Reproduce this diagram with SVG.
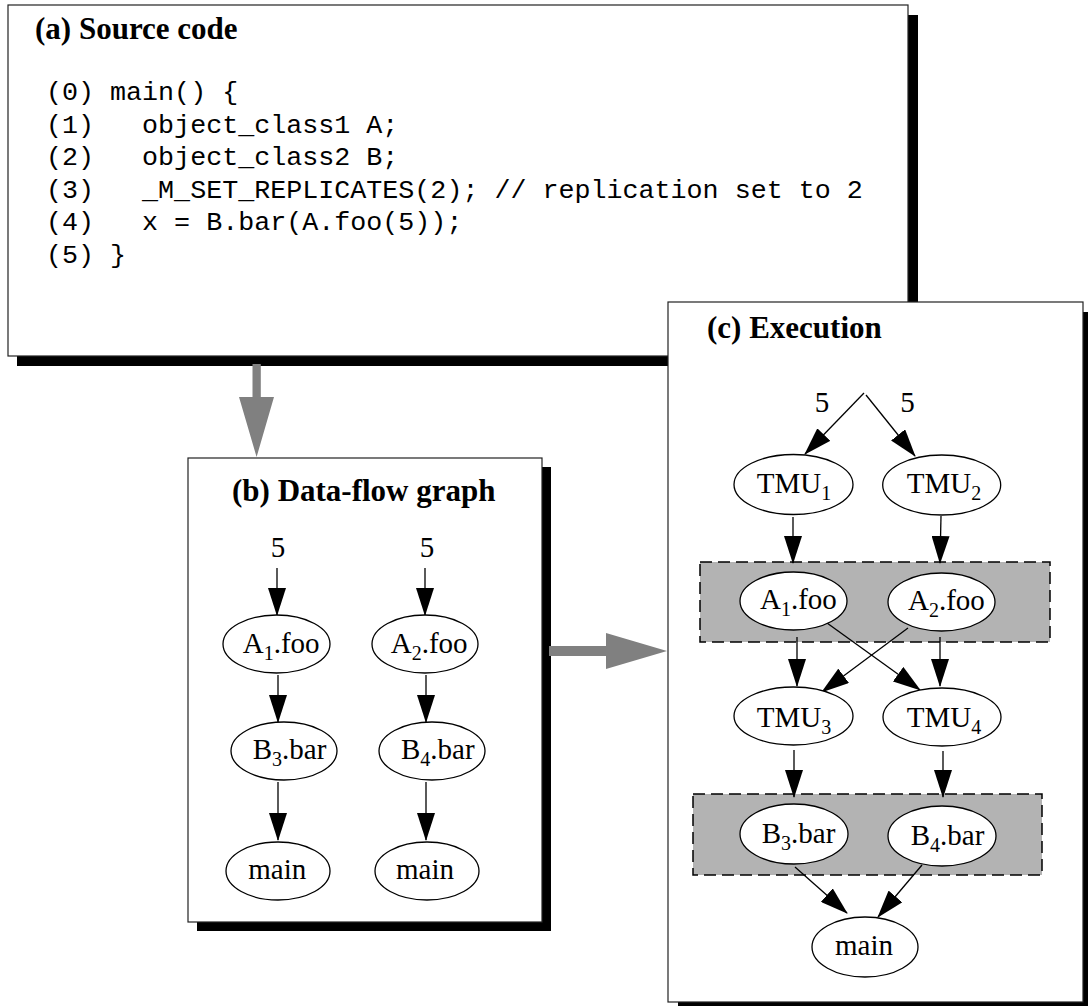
<svg xmlns="http://www.w3.org/2000/svg" width="1088" height="1006" viewBox="0 0 1088 1006">
<style>
.shadow{fill:#000}
.panel{fill:#fff;stroke:#222;stroke-width:1.2}
.title{font-family:"Liberation Serif","Times New Roman",serif;font-weight:bold;font-size:31px;fill:#000}
.code{font-family:"Liberation Mono","Courier New",monospace;font-size:26.7px;fill:#000;white-space:pre}
.lbl{font-family:"Liberation Serif","Times New Roman",serif;font-size:29px;fill:#000}
.sub{font-size:20px}
.node{fill:#fff;stroke:#000;stroke-width:1.3}
.edge{stroke:#000;stroke-width:1.3;fill:none;marker-end:url(#ah)}
.cluster{fill:#b3b3b3;stroke:#000;stroke-width:1.5;stroke-dasharray:12 6}
.flow{fill:#808080}
</style>
<defs>
<marker id="ah" markerUnits="userSpaceOnUse" markerWidth="28" markerHeight="18" viewBox="0 0 28 18" refX="27" refY="9" orient="auto">
<path d="M0,0 L28,9 L0,18 z" fill="#000"/>
</marker>
</defs>

<g id="panel-a">
<rect class="shadow" x="17" y="15" width="901" height="351"/>
<rect class="panel" x="8" y="5" width="900" height="351"/>
<text class="title" x="35" y="39">(a) Source code</text>
<text class="code" x="46" y="100" xml:space="preserve">(0) main() {</text>
<text class="code" x="46" y="132.5" xml:space="preserve">(1)   object_class1 A;</text>
<text class="code" x="46" y="165" xml:space="preserve">(2)   object_class2 B;</text>
<text class="code" x="46" y="197.5" xml:space="preserve">(3)   _M_SET_REPLICATES(2); // replication set to 2</text>
<text class="code" x="46" y="230" xml:space="preserve">(4)   x = B.bar(A.foo(5));</text>
<text class="code" x="46" y="262.5" xml:space="preserve">(5) }</text>
</g>

<g id="arrow-a-b">
<polygon class="flow" points="252.5,364 260.8,364 260.8,397 274,397 256.6,457 239,397 252.5,397"/>
</g>

<g id="panel-b">
<rect class="shadow" x="197" y="467" width="354" height="464"/>
<rect class="panel" x="188" y="458" width="354" height="464"/>
<text class="title" x="232" y="501">(b) Data-flow graph</text>
<text class="lbl" x="278" y="557" text-anchor="middle">5</text>
<text class="lbl" x="427" y="557" text-anchor="middle">5</text>
</g>

<g id="arrow-b-c">
<polygon class="flow" points="549,646 606,646 606,633 667,651 606,669 606,656 549,656"/>
</g>

<g id="panel-c">
<rect class="shadow" x="678" y="312" width="415" height="700"/>
<rect class="panel" x="668" y="302" width="415" height="700"/>
<text class="title" x="707" y="338">(c) Execution</text>
<text class="lbl" x="822" y="412" text-anchor="middle">5</text>
<text class="lbl" x="907.5" y="412" text-anchor="middle">5</text>
<rect id="cluster-A" class="cluster" x="700" y="562" width="350" height="80"/>
<rect id="cluster-B" class="cluster" x="693" y="794" width="349" height="81"/>
</g>

<g id="connectors">
<line class="edge" x1="277" y1="568" x2="277" y2="615"/>
<line class="edge" x1="425" y1="568" x2="425" y2="615"/>
<line class="edge" x1="278" y1="675" x2="278" y2="722"/>
<line class="edge" x1="426" y1="675" x2="426" y2="722"/>
<line class="edge" x1="278" y1="782" x2="278" y2="840"/>
<line class="edge" x1="426" y1="782" x2="426" y2="840"/>
<line class="edge" x1="864" y1="393" x2="805" y2="454"/>
<line class="edge" x1="866" y1="395" x2="915" y2="456"/>
<line class="edge" x1="793" y1="517" x2="793" y2="563"/>
<line class="edge" x1="941" y1="516" x2="940" y2="563"/>
<line class="edge" x1="797" y1="637" x2="797" y2="686"/>
<line class="edge" x1="940" y1="637" x2="940" y2="686"/>
<line class="edge" x1="827" y1="623" x2="920" y2="690"/>
<line class="edge" x1="908" y1="628" x2="822" y2="692"/>
<line class="edge" x1="794" y1="750" x2="794" y2="797"/>
<line class="edge" x1="943" y1="751" x2="943" y2="797"/>
<line class="edge" x1="795" y1="867" x2="847" y2="913"/>
<line class="edge" x1="922" y1="865" x2="878" y2="917"/>
</g>

<g id="b-A1foo"><ellipse class="node" cx="276.5" cy="644" rx="53.5" ry="29"/><text class="lbl" x="242.7" y="653">A<tspan class="sub" dy="7">1</tspan><tspan dy="-7">.foo</tspan></text></g>
<g id="b-A2foo"><ellipse class="node" cx="425" cy="644" rx="53" ry="29"/><text class="lbl" x="390.7" y="653">A<tspan class="sub" dy="7">2</tspan><tspan dy="-7">.foo</tspan></text></g>
<g id="b-B3bar"><ellipse class="node" cx="284" cy="751" rx="53" ry="29"/><text class="lbl" x="252.7" y="759">B<tspan class="sub" dy="7">3</tspan><tspan dy="-7">.bar</tspan></text></g>
<g id="b-B4bar"><ellipse class="node" cx="432" cy="751" rx="53" ry="29"/><text class="lbl" x="401" y="759">B<tspan class="sub" dy="7">4</tspan><tspan dy="-7">.bar</tspan></text></g>
<g id="b-main1"><ellipse class="node" cx="278" cy="871" rx="52" ry="29"/><text class="lbl" x="248.3" y="879">main</text></g>
<g id="b-main2"><ellipse class="node" cx="427" cy="871" rx="52" ry="29"/><text class="lbl" x="396" y="879">main</text></g>

<g id="c-TMU1"><ellipse class="node" cx="793.5" cy="484.5" rx="59.5" ry="30"/><text class="lbl" x="756.7" y="493">TMU<tspan class="sub" dy="7">1</tspan></text></g>
<g id="c-TMU2"><ellipse class="node" cx="941.7" cy="485" rx="59" ry="30"/><text class="lbl" x="906.7" y="493">TMU<tspan class="sub" dy="7">2</tspan></text></g>
<g id="c-A1foo"><ellipse class="node" cx="793.5" cy="601" rx="53.5" ry="29"/><text class="lbl" x="760" y="609">A<tspan class="sub" dy="7">1</tspan><tspan dy="-7">.foo</tspan></text></g>
<g id="c-A2foo"><ellipse class="node" cx="941.5" cy="602" rx="53.5" ry="29"/><text class="lbl" x="908" y="610">A<tspan class="sub" dy="7">2</tspan><tspan dy="-7">.foo</tspan></text></g>
<g id="c-TMU3"><ellipse class="node" cx="793.5" cy="716" rx="59.5" ry="29"/><text class="lbl" x="756.7" y="727">TMU<tspan class="sub" dy="7">3</tspan></text></g>
<g id="c-TMU4"><ellipse class="node" cx="942" cy="717" rx="59" ry="29"/><text class="lbl" x="906.7" y="727">TMU<tspan class="sub" dy="7">4</tspan></text></g>
<g id="c-B3bar"><ellipse class="node" cx="794" cy="834" rx="54" ry="30"/><text class="lbl" x="761.7" y="843">B<tspan class="sub" dy="7">3</tspan><tspan dy="-7">.bar</tspan></text></g>
<g id="c-B4bar"><ellipse class="node" cx="942" cy="836" rx="54" ry="30"/><text class="lbl" x="910.7" y="845">B<tspan class="sub" dy="7">4</tspan><tspan dy="-7">.bar</tspan></text></g>
<g id="c-main"><ellipse class="node" cx="865" cy="947" rx="53" ry="30"/><text class="lbl" x="835" y="955">main</text></g>
</svg>
